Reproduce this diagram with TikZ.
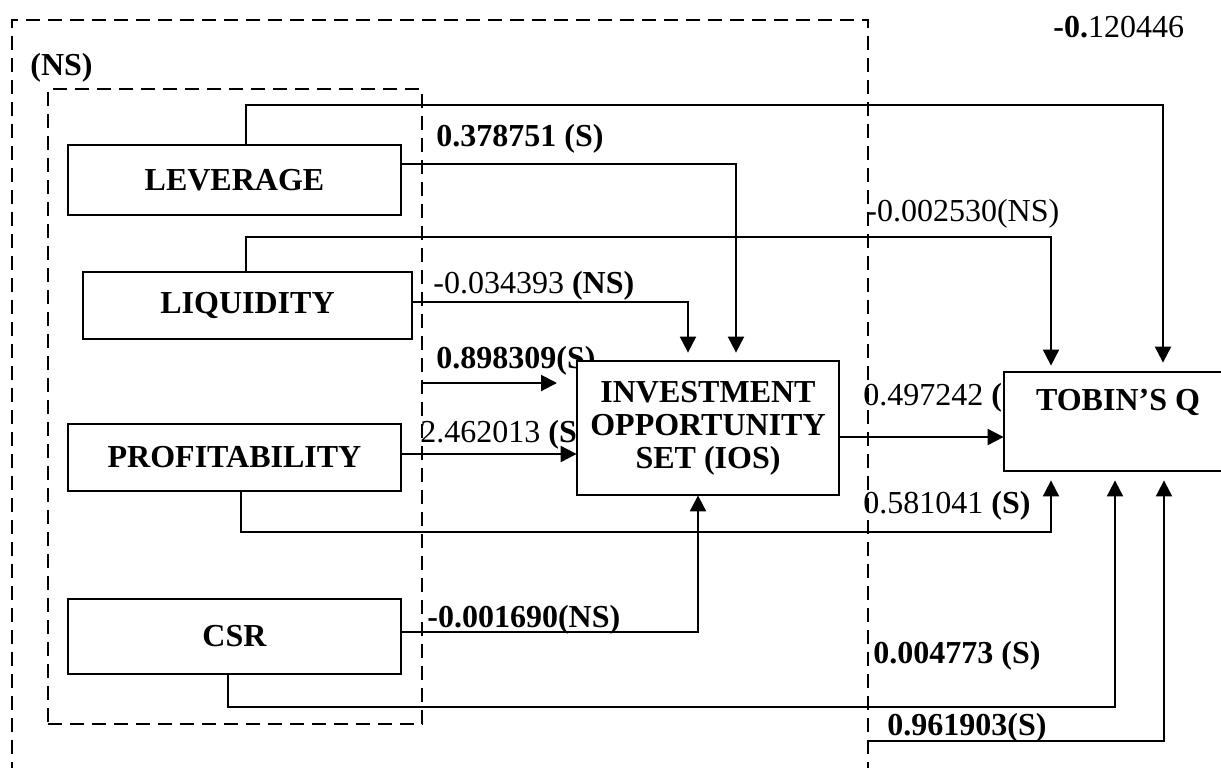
\documentclass[tikz,border=0pt]{standalone}
\usepackage{fontspec}
\setmainfont{Liberation Serif}
\usetikzlibrary{arrows.meta}
\begin{document}
\begin{tikzpicture}[x=0.5pt,y=-0.5pt,
  box/.style={draw,line width=1.1pt,fill=white,inner sep=0pt,align=center,
    font=\fontsize{16}{16.5}\selectfont\bfseries},
  grp/.style={draw,line width=1pt,dash pattern=on 7pt off 4pt,inner sep=0pt},
  lbl/.style={inner sep=0pt,anchor=base west,font=\fontsize{16}{16}\selectfont},
  conn/.style={line width=1pt},
  arr/.style={conn,-{Triangle[length=8pt,width=8pt]}}]
\useasboundingbox (0,0) rectangle (1221,767);
\fill[white] (0,0) rectangle (1221,767);
\clip (0,0) rectangle (1221,767);

% dashed groups
\node[grp,minimum width=428pt,minimum height=390pt] (outer) at (440,410) {};
\node[grp,minimum width=187pt,minimum height=317.5pt] (grp) at (235,406.5) {};
\node[lbl,font=\fontsize{16}{16}\selectfont\bfseries] (ns) at (30,75) {(NS)};

% labels partly hidden by boxes
\node[lbl,font=\fontsize{16}{16}\selectfont\bfseries] (l898) at (436,368) {0.898309(S)};
\node[lbl] (l246) at (420,442) {2.462013 \textbf{(S)}};
\node[lbl] (l497) at (863,405) {0.497242 \textbf{(S)}};

% boxes
\path
  (234.5,180) node[box,minimum width=166.5pt,minimum height=35pt] (lev) {LEVERAGE}
  (247.5,305.5) node[box,minimum width=164.5pt,minimum height=33.5pt] (liq) {LIQUIDITY}
  (234.5,457.5) node[box,minimum width=166.5pt,minimum height=33.5pt] (prof) {PROFITABILITY}
  (234.5,636.5) node[box,minimum width=166.5pt,minimum height=37.5pt] (csr) {CSR};

\coordinate (e898) at (557,383);
\coordinate (iosc) at (708,428);
\coordinate (tqc) at (1118,421.5);

% box outlines used by connectors
\path (iosc) node[minimum width=131pt,minimum height=67pt,inner sep=0pt] (ios) {}
      (tqc) node[minimum width=114pt,minimum height=49.5pt,inner sep=0pt] (tq) {};

% connectors
\draw[arr,shorten >=4.5pt] (lev.north -| 246,0) |- (1163,105) -- (1163,0 |- tq.north);
\draw[arr,shorten >=4pt] (lev.east |- 0,164) -| (736,0 |- ios.north);
\draw[arr,shorten >=3pt] (liq.north -| 246,0) |- (1051,237) -- (1051,0 |- tq.north);
\draw[arr,shorten >=4pt] (liq.east |- 0,302) -| (688,0 |- ios.north);
\draw[arr] (grp.east |- 0,383) -- (e898);
\draw[arr] (prof.east |- 0,454) -- (ios.west |- 0,454);
\draw[arr,shorten >=4.5pt] (prof.south -| 241,0) |- (1051,532) -- (1051,0 |- tq.south);
\draw[arr] (ios.east |- 0,437) -- (tq.west |- 0,437);
\draw[arr] (csr.east |- 0,632) -| (698,0 |- ios.south);
\draw[arr,shorten >=4.5pt] (csr.south -| 228,0) |- (1115,707) -- (1115,0 |- tq.south);
\draw[arr,shorten >=4.5pt] (outer.east |- 0,741) -| (1164,0 |- tq.south);

% visible boxes on top (white fill hides parts of labels)
\node[box,minimum width=131pt,minimum height=67pt] (iosbox) at (iosc) {INVESTMENT\\OPPORTUNITY\\SET (IOS)};
\node[box,minimum width=114pt,minimum height=49.5pt] (tqbox) at (tqc) {};
\node[inner sep=0pt,font=\fontsize{16}{16}\selectfont\bfseries] (tqt) at (1118,402) {TOBIN’S Q};

% labels
\node[lbl,font=\fontsize{16}{16}\selectfont\bfseries] (l378) at (436,146) {0.378751 (S)};
\node[lbl] (l002) at (866,221) {-0.002530(NS)};
\node[lbl] (l034) at (433,293) {-0.034393 \textbf{(NS)}};
\node[lbl] (l581) at (863,513) {0.581041 \textbf{(S)}};
\node[lbl,font=\fontsize{16}{16}\selectfont\bfseries] (l001) at (427,627) {-0.001690(NS)};
\node[lbl,font=\fontsize{16}{16}\selectfont\bfseries] (l004) at (873,663) {0.004773 (S)};
\node[lbl,font=\fontsize{16}{16}\selectfont\bfseries] (l961) at (887,735) {0.961903(S)};
\node[lbl] (l120) at (1053,37) {\textbf{-0.}120446};
\end{tikzpicture}
\end{document}
